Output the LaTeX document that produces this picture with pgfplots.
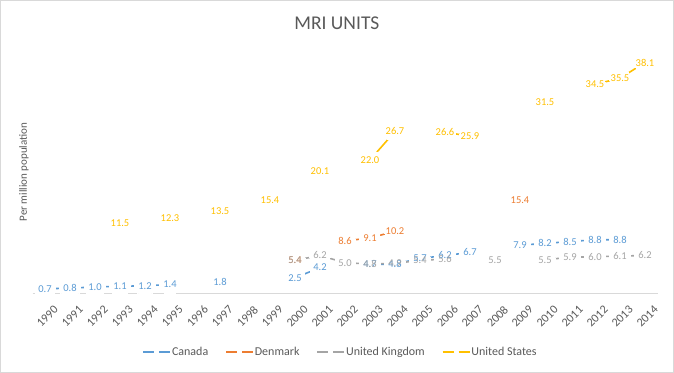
\documentclass[border=0pt]{standalone}
\usepackage{pgfplots}
\pgfplotsset{compat=1.18}
\usepackage{pgfplotstable}
\usepackage{fontspec}
\setmainfont{Carlito}
\definecolor{cCA}{HTML}{5B9BD5}
\definecolor{cDK}{HTML}{ED7D31}
\definecolor{cUK}{HTML}{A5A5A5}
\definecolor{cUS}{HTML}{FFC000}
\definecolor{txt}{HTML}{595959}
\definecolor{bord}{HTML}{D9D9D9}
\pgfplotstableread{
x CA DK UK US
0 0.7 nan nan nan
1 0.8 nan nan nan
2 1.0 nan nan nan
3 1.1 nan nan 11.5
4 1.2 nan nan nan
5 1.4 nan nan 12.3
6 nan nan nan nan
7 1.8 nan nan 13.5
8 nan nan nan nan
9 nan nan nan 15.4
10 2.5 5.4 5.4 nan
11 4.2 nan 6.2 20.1
12 nan 8.6 5.0 nan
13 4.7 9.1 4.8 22.0
14 4.8 10.2 4.9 26.7
15 5.7 nan 5.4 nan
16 6.2 nan 5.6 26.6
17 6.7 nan nan 25.9
18 nan nan 5.5 nan
19 7.9 15.4 nan nan
20 8.2 nan 5.5 31.5
21 8.5 nan 5.9 nan
22 8.8 nan 6.0 34.5
23 8.8 nan 6.1 35.5
24 nan nan 6.2 38.1
}\mridata
\begin{document}
\begin{tikzpicture}
\useasboundingbox (0,0) rectangle (674bp,373bp);
\draw[bord, line width=1bp] (0.5bp,0.5bp) rectangle (673.5bp,372.5bp);
\begin{axis}[
  at={(32.5bp,80bp)}, anchor=south west,
  scale only axis, width=625bp, height=242bp,
  xmin=-0.5, xmax=24.5, ymin=0, ymax=40,
  axis x line*=bottom, x axis line style={draw=bord, line width=0.8bp, -},
  hide y axis,
  xtick={0,...,24}, major tick length=0pt,
  xticklabels={1990,1991,1992,1993,1994,1995,1996,1997,1998,1999,2000,2001,2002,2003,2004,2005,2006,2007,2008,2009,2010,2011,2012,2013,2014},
  xticklabel style={rotate=45, anchor=north east, font=\fontsize{12bp}{13bp}\selectfont, text=txt, inner sep=0bp, yshift=-14bp, xshift=-2.5bp},
  /pgf/number format/assume math mode=true,
  unbounded coords=jump,
  title={MRI UNITS},
  title style={at={(0.487,1.091)}, anchor=center, font=\fontsize{19.5bp}{21bp}\selectfont, text=txt},
  legend columns=4,
  legend style={at={(0.492,-0.244)}, anchor=center, draw=none, fill=none,
    font=\fontsize{12bp}{13bp}\selectfont, text=txt,
    /tikz/every even column/.append style={column sep=16bp},
    nodes={inner sep=1bp}},
  legend image code/.code={
    \draw[#1] (0bp,0bp) -- (11bp,0bp);
    \draw[#1] (16bp,0bp) -- (27bp,0bp);
  },
  every axis plot/.append style={line width=1.6bp},
]
\pgfplotsset{lbl/.style={draw=none, mark=none, forget plot,
   nodes near coords={\pgfmathprintnumber[fixed,fixed zerofill,precision=1]{\pgfplotspointmeta}},
   every node near coord/.append style={anchor=center, inner sep=0pt, font=\fontsize{10.5bp}{12bp}\selectfont, text=#1}}}
\pgfplotsset{ln/.style={color=#1, mark=*, mark size=10.5bp, mark options={fill=white, draw=white, line width=0pt}}}
\addplot[ln=cCA] table[x=x, y=CA] {\mridata};
\addlegendentry{Canada}
\addplot[ln=cDK] table[x=x, y=DK] {\mridata};
\addlegendentry{Denmark}
\addplot[ln=cUK] table[x=x, y=UK] {\mridata};
\addlegendentry{United Kingdom}
\addplot[ln=cUS] table[x=x, y=US] {\mridata};
\addlegendentry{United States}
\addplot[lbl=cCA] table[x=x, y=CA] {\mridata};
\addplot[lbl=cDK] table[x=x, y=DK] {\mridata};
\addplot[lbl=cUK] table[x=x, y=UK] {\mridata};
\addplot[lbl=cUS] table[x=x, y=US] {\mridata};
\end{axis}
\node[rotate=90, font=\fontsize{11bp}{12bp}\selectfont, text=txt] at (24bp,201bp) {Per million population};
\end{tikzpicture}
\end{document}
